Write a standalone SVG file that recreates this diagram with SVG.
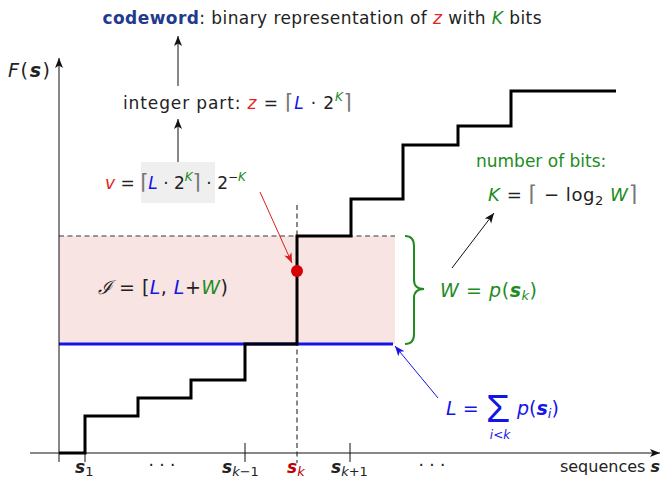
<svg xmlns="http://www.w3.org/2000/svg" width="666" height="481" viewBox="0 0 666 481">
<style>
svg{font-family:"DejaVu Sans","Liberation Sans",sans-serif;font-size:17px}
text{fill:#222}
.it{font-style:italic}
.red{fill:#e52421}
.grn{fill:#1e8c1e}
.blu{fill:#1414e6}
.gry{fill:#777}
.b{font-weight:bold}
.ax{stroke:#111;stroke-width:1;fill:none}
.sub{font-size:13px;font-weight:normal}
</style>
<defs>
<marker id="ah" markerUnits="userSpaceOnUse" markerWidth="12" markerHeight="10" refX="10" refY="4" orient="auto"><path d="M0,0 L10,4 L0,8 L2.5,4 z" fill="#111"/></marker>
<marker id="ahr" markerUnits="userSpaceOnUse" markerWidth="12" markerHeight="10" refX="10" refY="4" orient="auto"><path d="M0,0 L10,4 L0,8 L2.5,4 z" fill="#d81e1e"/></marker>
<marker id="ahb" markerUnits="userSpaceOnUse" markerWidth="12" markerHeight="10" refX="10" refY="4" orient="auto"><path d="M0,0 L10,4 L0,8 L2.5,4 z" fill="#1414e6"/></marker>
</defs>

<g id="interval">
<rect x="59" y="236" width="336" height="108" fill="#f9e4e4"/>
<line x1="59" y1="236" x2="395" y2="236" stroke="#777" stroke-width="1.5" stroke-dasharray="5,3.5"/>
<line x1="59" y1="344" x2="393" y2="344" stroke="#1414e6" stroke-width="3"/>
</g>

<g id="axes">
<line class="ax" x1="59" y1="462" x2="59" y2="58" marker-end="url(#ah)"/>
<line class="ax" x1="30" y1="453" x2="660" y2="453" marker-end="url(#ah)"/>
<line class="ax" x1="85" y1="443" x2="85" y2="462"/>
<line class="ax" x1="245" y1="443" x2="245" y2="462"/>
<line class="ax" x1="350" y1="443" x2="350" y2="462"/>
<line x1="297" y1="205" x2="297" y2="463" stroke="#111" stroke-width="1" stroke-dasharray="5,3.5"/>
<text x="8" y="77" font-size="19" textLength="42"><tspan class="it">F</tspan>(<tspan class="it b">s</tspan>)</text>
<text x="660" y="472" text-anchor="end" font-size="16">sequences <tspan class="it b">s</tspan></text>
</g>

<g id="staircase">
<polyline points="59,453 85,453 85,416 138,416 138,398 191,398 191,380 245,380 245,344 297,344 297,236 351,236 351,199 403,199 403,145 458,145 458,126 511,126 511,91 616,91" fill="none" stroke="#000" stroke-width="3"/>
</g>

<g id="xlabels">
<text x="75" y="473" class="it b">s<tspan class="sub" dy="3" font-style="normal">1</tspan></text>
<text x="162" y="471" text-anchor="middle">· · ·</text>
<text x="222" y="473" class="it b">s<tspan class="sub" dy="3">k<tspan font-style="normal">−1</tspan></tspan></text>
<text x="287" y="473" class="it b" style="fill:#c00000">s<tspan class="sub" dy="3" font-weight="bold">k</tspan></text>
<text x="331" y="473" class="it b">s<tspan class="sub" dy="3">k<tspan font-style="normal">+1</tspan></tspan></text>
<text x="432" y="471" text-anchor="middle">· · ·</text>
</g>

<g id="codeword">
<text x="322" y="24" text-anchor="middle" textLength="439"><tspan class="b" style="fill:#1f3b8f">codeword</tspan>: binary representation of <tspan class="it red">z</tspan> with <tspan class="it grn">K</tspan> bits</text>
</g>

<g id="integer-part">
<text x="123" y="109" textLength="229">integer part: <tspan class="it red">z</tspan> = <tspan class="gry" font-size="21">⌈</tspan><tspan class="it blu">L</tspan> · 2<tspan class="it grn" font-size="12" dy="-8">K</tspan><tspan class="gry" font-size="21" dy="8">⌉</tspan></text>
</g>

<g id="v-value">
<rect x="141" y="162" width="74" height="41" fill="#efefef"/>
<text x="105" y="189"><tspan class="it red">v</tspan> = <tspan class="gry" font-size="21">⌈</tspan><tspan class="it blu">L</tspan> · 2<tspan class="it grn" font-size="12" dy="-8">K</tspan><tspan class="gry" font-size="21" dy="8">⌉</tspan> · 2<tspan font-size="12" dy="-8">−</tspan><tspan class="it grn" font-size="12">K</tspan></text>
<circle cx="297" cy="271" r="6" fill="#d80000"/>
</g>

<g id="interval-label">
<text x="98" y="294" font-size="19" textLength="130"><tspan font-family="DejaVu Serif,serif" class="it">ℐ</tspan> = [<tspan class="it blu">L</tspan>, <tspan class="it blu">L</tspan>+<tspan class="it grn">W</tspan>)</text>
</g>

<g id="width-label">
<path d="M405,236 Q414,236 414,246 L414,280 Q414,289 424,289 Q414,289 414,298 L414,334 Q414,344 405,344" fill="none" stroke="#1e8c1e" stroke-width="2"/>
<text x="440" y="297" class="grn" font-size="19" textLength="97"><tspan class="it">W</tspan> = <tspan class="it">p</tspan>(<tspan class="it b">s</tspan><tspan font-size="13" dy="3" class="it">k</tspan><tspan dy="-3">)</tspan></text>
</g>

<g id="bits-label">
<text x="476" y="167" class="grn">number of bits:</text>
<text x="488" y="201" font-size="18" textLength="149"><tspan class="it grn">K</tspan> = <tspan class="gry" font-size="22">⌈</tspan> − log<tspan font-size="13" dy="4">2</tspan> <tspan class="it grn" dy="-4">W</tspan><tspan class="gry" font-size="22">⌉</tspan></text>
</g>

<g id="sum-label">
<text x="446" y="415" class="blu" font-size="19"><tspan class="it">L</tspan> =</text>
<text x="486" y="422" class="blu" font-size="39" font-family="Liberation Sans,sans-serif">Σ</text>
<text x="517" y="415" class="blu" font-size="19"><tspan class="it">p</tspan>(<tspan class="it b">s</tspan><tspan font-size="13" dy="3" class="it">i</tspan><tspan dy="-3">)</tspan></text>
<text x="500" y="439" class="blu it" font-size="12" text-anchor="middle">i&lt;k</text>
</g>

<g id="connectors">
<line x1="178" y1="86" x2="178" y2="36" stroke="#111" stroke-width="1" marker-end="url(#ah)"/>
<line x1="178" y1="162" x2="178" y2="119" stroke="#111" stroke-width="1" marker-end="url(#ah)"/>
<line x1="260" y1="192" x2="292" y2="263" stroke="#d81e1e" stroke-width="1" marker-end="url(#ahr)"/>
<line x1="452" y1="268" x2="494" y2="213" stroke="#111" stroke-width="1" marker-end="url(#ah)"/>
<line x1="438" y1="398" x2="395" y2="346" stroke="#1414e6" stroke-width="1" marker-end="url(#ahb)"/>
</g>
</svg>
